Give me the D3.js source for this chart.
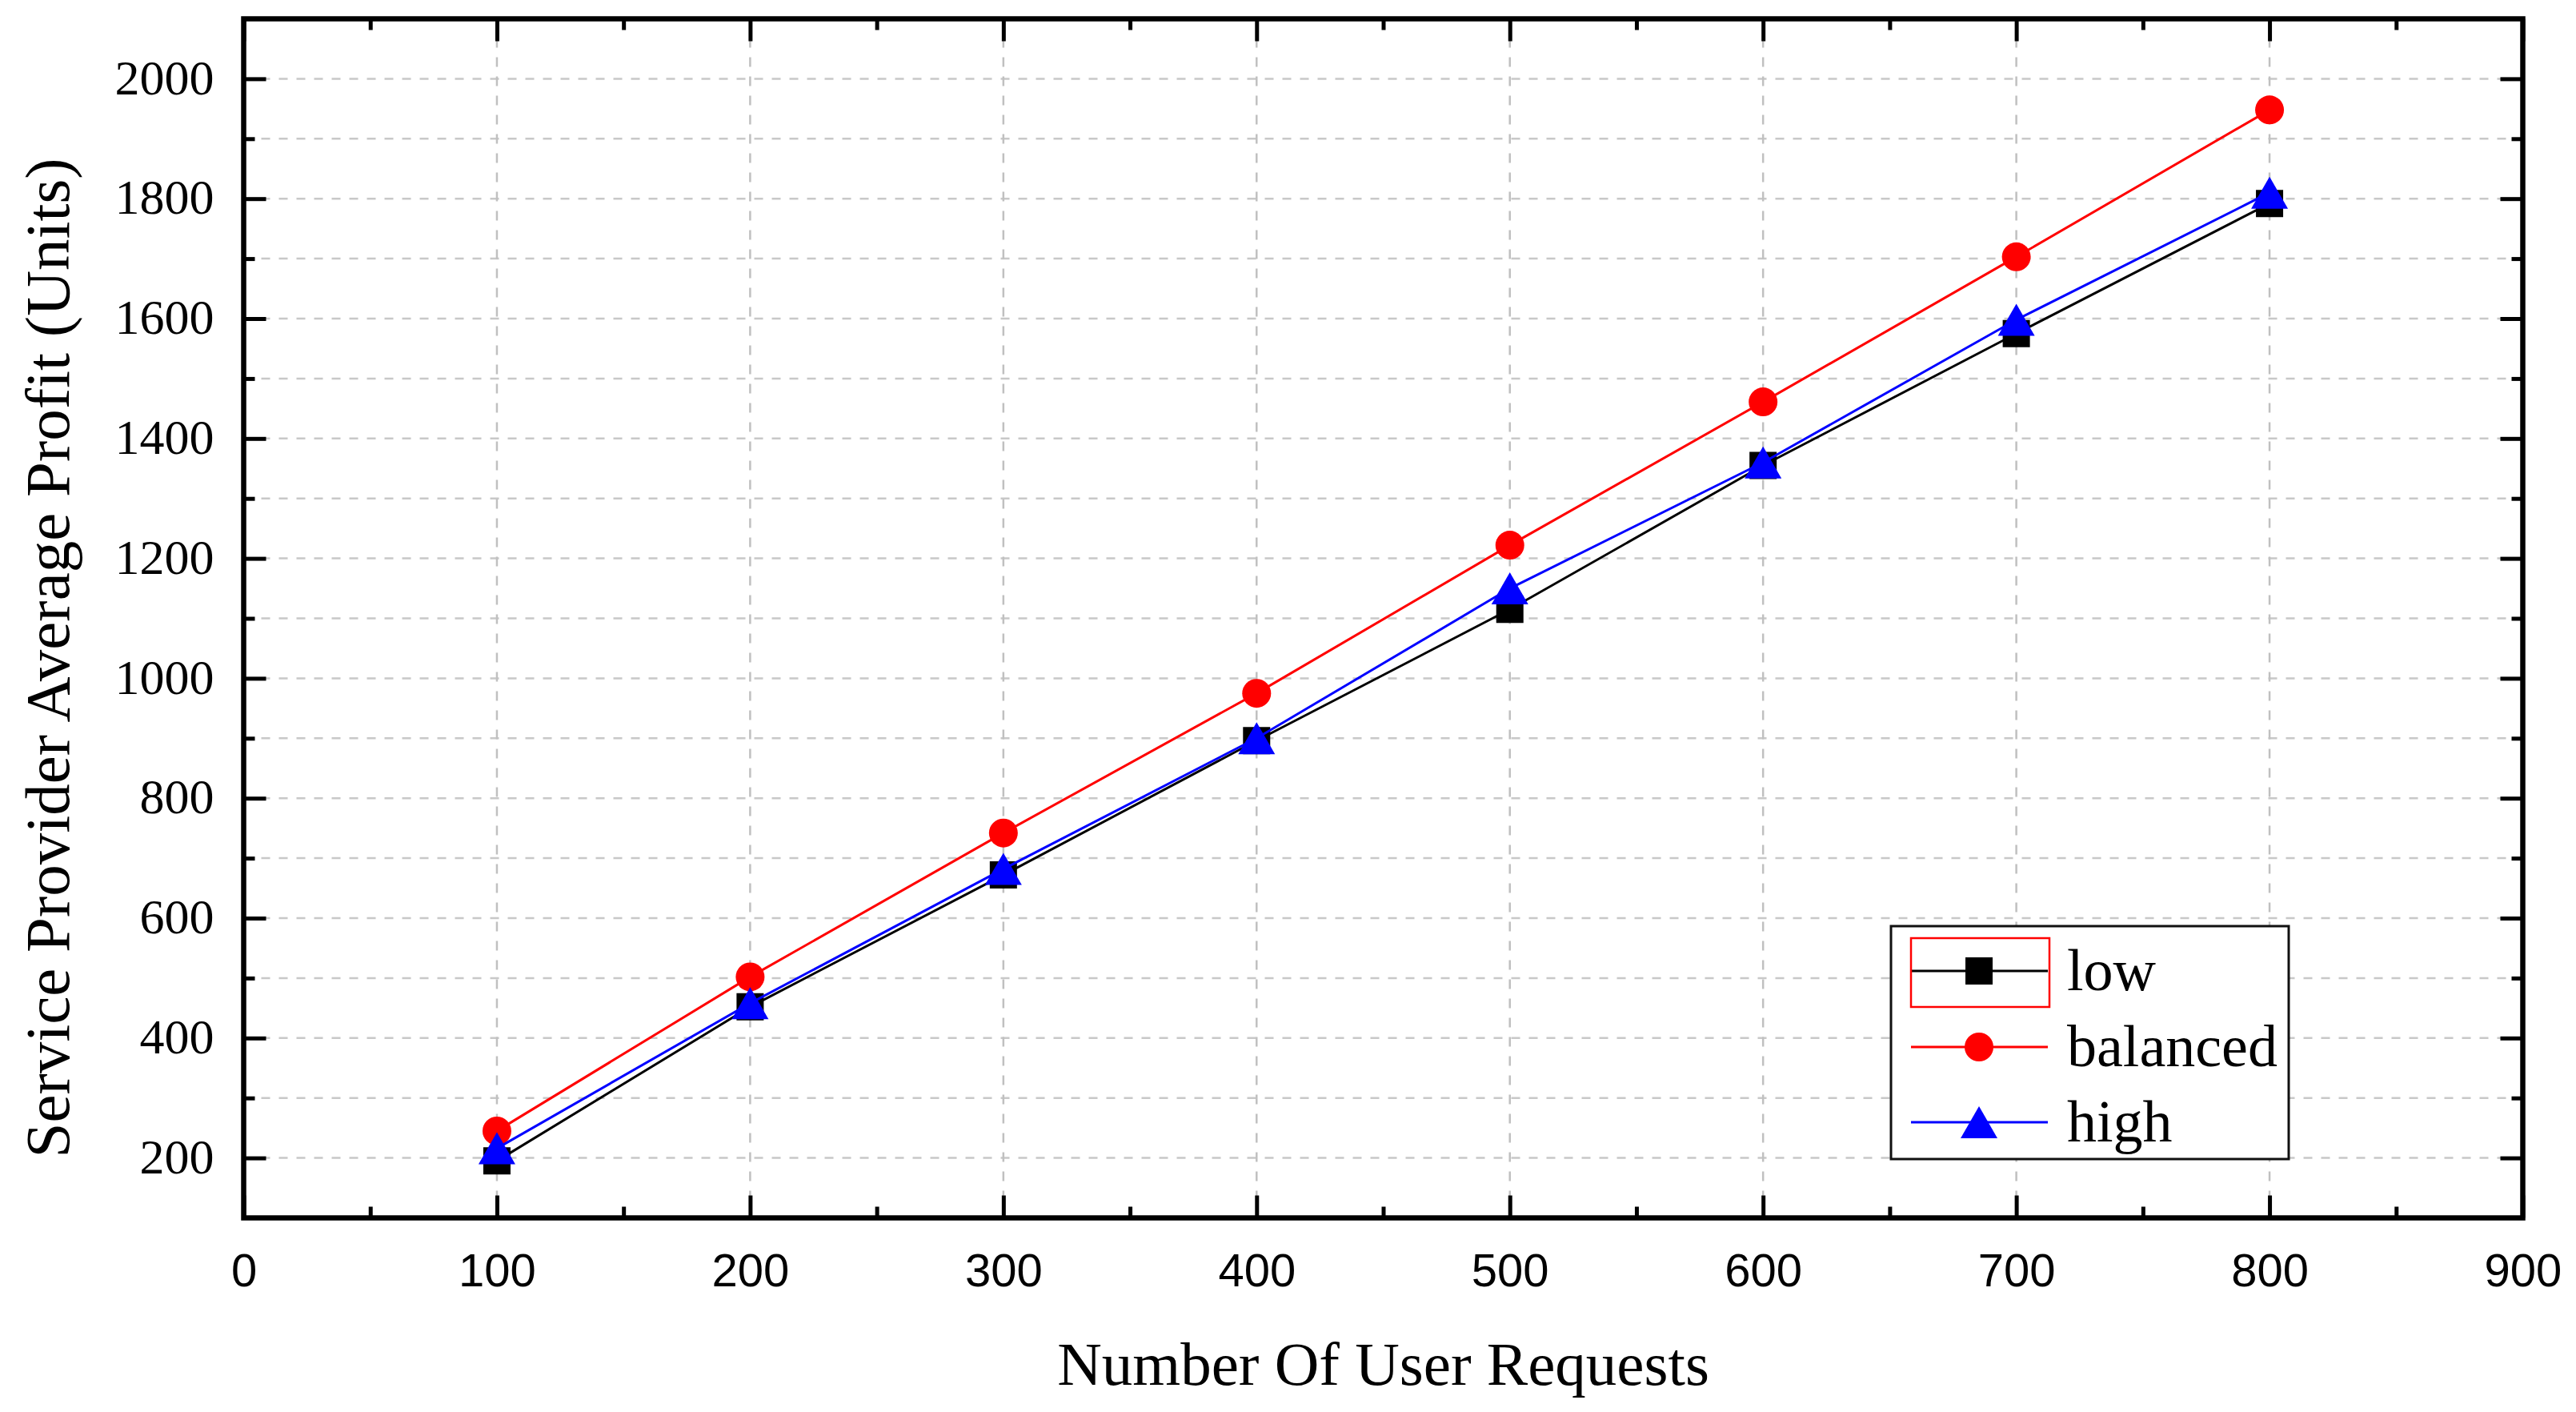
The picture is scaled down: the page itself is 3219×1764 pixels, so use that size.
<!DOCTYPE html>
<html>
<head>
<meta charset="utf-8">
<script src="https://cdn.jsdelivr.net/npm/d3@7"></script>
<style>
  html, body { margin: 0; padding: 0; background: #ffffff; }
  svg { display: block; }
</style>
</head>
<body>
<script>
// ---- data ----
const requests = [100, 200, 300, 400, 500, 600, 700, 800];
const lowProfit = [195, 452, 672, 896, 1115, 1355, 1575, 1792];
const balancedProfit = [245, 502, 742, 975, 1222, 1461, 1703, 1948];
const highProfit = [216, 458, 682, 900, 1150, 1360, 1598, 1810];
const seriesNames = ["low", "balanced", "high"];
const xTickValues = [0, 100, 200, 300, 400, 500, 600, 700, 800, 900];
const xMinorValues = [50, 150, 250, 350, 450, 550, 650, 750, 850];
const yTickValues = [200, 400, 600, 800, 1000, 1200, 1400, 1600, 1800, 2000];
const yMinorValues = [300, 500, 700, 900, 1100, 1300, 1500, 1700, 1900];
const xTitle = "Number Of User Requests";
const yTitle = "Service Provider Average Profit (Units)";

// ---- layout ----
const W = 3219, H = 1764;
const L = 304.5, R = 3152.5, T = 23.5, B = 1521.5;
const serif = "'Liberation Serif', 'Times New Roman', Times, serif";
const sans = "'Liberation Sans', Arial, Helvetica, sans-serif";

const svg = d3.select("body").append("svg").attr("width", W).attr("height", H);
svg.append("rect").attr("width", W).attr("height", H).attr("fill", "#fff");

const x = d3.scaleLinear().domain([0, 900]).range([L, R]);
const y = d3.scaleLinear().domain([100, 2100]).range([B, T]);

// ---- grid ----
const grid = svg.append("g");
grid.selectAll("line.h").data(yTickValues.concat(yMinorValues)).enter().append("line")
  .attr("x1", L).attr("x2", R)
  .attr("y1", d => y(d)).attr("y2", d => y(d))
  .attr("stroke", "#c8c8c8").attr("stroke-width", 2.5).attr("stroke-dasharray", "11,11");
grid.selectAll("line.v").data(xTickValues.filter(d => d > 0 && d < 900)).enter().append("line")
  .attr("x1", d => x(d)).attr("x2", d => x(d))
  .attr("y1", T).attr("y2", B)
  .attr("stroke", "#c0c0c0").attr("stroke-width", 2.5).attr("stroke-dasharray", "12,12");

// ---- axes ----
function styleAxis(g) {
  g.select(".domain").remove();
  g.selectAll(".tick line").attr("stroke", "#000").attr("stroke-width", 5);
}
const majorLen = 28, minorLen = 14;

svg.append("g").attr("transform", `translate(0,${B})`)
  .call(d3.axisBottom(x).tickValues(xTickValues).tickSizeInner(-majorLen).tickSizeOuter(0).tickPadding(44).tickFormat(d3.format("d")))
  .call(styleAxis)
  .call(g => g.selectAll("text").attr("font-family", sans).attr("font-size", 58).attr("fill", "#000"));
svg.append("g").attr("transform", `translate(0,${B})`)
  .call(d3.axisBottom(x).tickValues(xMinorValues).tickSizeInner(-minorLen).tickSizeOuter(0).tickFormat(""))
  .call(styleAxis);
svg.append("g").attr("transform", `translate(0,${T})`)
  .call(d3.axisTop(x).tickValues(xTickValues).tickSizeInner(-majorLen).tickSizeOuter(0).tickFormat(""))
  .call(styleAxis);
svg.append("g").attr("transform", `translate(0,${T})`)
  .call(d3.axisTop(x).tickValues(xMinorValues).tickSizeInner(-minorLen).tickSizeOuter(0).tickFormat(""))
  .call(styleAxis);

svg.append("g").attr("transform", `translate(${L},0)`)
  .call(d3.axisLeft(y).tickValues(yTickValues).tickSizeInner(-majorLen).tickSizeOuter(0).tickPadding(37).tickFormat(d3.format("d")))
  .call(styleAxis)
  .call(g => g.selectAll("text").attr("font-family", serif).attr("font-size", 62).attr("fill", "#000").attr("dy", "0.30em"));
svg.append("g").attr("transform", `translate(${L},0)`)
  .call(d3.axisLeft(y).tickValues(yMinorValues).tickSizeInner(-minorLen).tickSizeOuter(0).tickFormat(""))
  .call(styleAxis);
svg.append("g").attr("transform", `translate(${R},0)`)
  .call(d3.axisRight(y).tickValues(yTickValues).tickSizeInner(-majorLen).tickSizeOuter(0).tickFormat(""))
  .call(styleAxis);
svg.append("g").attr("transform", `translate(${R},0)`)
  .call(d3.axisRight(y).tickValues(yMinorValues).tickSizeInner(-minorLen).tickSizeOuter(0).tickFormat(""))
  .call(styleAxis);

// frame
svg.append("rect").attr("x", L).attr("y", T).attr("width", R - L).attr("height", B - T)
  .attr("fill", "none").attr("stroke", "#000").attr("stroke-width", 6.5);

// ---- series ----
const squarePath = s => `M${-s/2},${-s/2}h${s}v${s}h${-s}Z`;
const circlePath = r => `M${-r},0a${r},${r} 0 1,0 ${2*r},0a${r},${r} 0 1,0 ${-2*r},0Z`;
const trianglePath = (w, h) => `M0,${-h/2}L${w/2},${h/2}L${-w/2},${h/2}Z`;

const series = [
  { name: seriesNames[0], values: lowProfit, color: "#000000", shape: squarePath(34) },
  { name: seriesNames[1], values: balancedProfit, color: "#ff0000", shape: circlePath(18) },
  { name: seriesNames[2], values: highProfit, color: "#0000ff", shape: trianglePath(46, 40) }
];

const line = d3.line().x(d => x(d[0])).y(d => y(d[1]));
series.forEach(s => {
  const pts = requests.map((r, i) => [r, s.values[i]]);
  const g = svg.append("g");
  g.append("path").datum(pts).attr("d", line)
    .attr("fill", "none").attr("stroke", s.color).attr("stroke-width", 3);
  g.selectAll("path.m").data(pts).enter().append("path")
    .attr("transform", d => `translate(${x(d[0])},${y(d[1])})`)
    .attr("d", s.shape).attr("fill", s.color);
});

// ---- legend ----
const lg = svg.append("g");
lg.append("rect").attr("x", 2363).attr("y", 1157).attr("width", 497).attr("height", 291)
  .attr("fill", "#fff").attr("stroke", "#111").attr("stroke-width", 3);
const rowY = [1213, 1308, 1402];
series.forEach((s, i) => {
  lg.append("line").attr("x1", 2388).attr("x2", 2559).attr("y1", rowY[i]).attr("y2", rowY[i])
    .attr("stroke", s.color).attr("stroke-width", 3);
  lg.append("path").attr("transform", `translate(2473,${rowY[i]})`).attr("d", s.shape).attr("fill", s.color);
  lg.append("text").attr("x", 2583).attr("y", rowY[i] + 24)
    .attr("font-family", serif).attr("font-size", 74).attr("fill", "#000").text(s.name);
});
lg.append("rect").attr("x", 2388).attr("y", 1172).attr("width", 173).attr("height", 86)
  .attr("fill", "none").attr("stroke", "#ff0000").attr("stroke-width", 2.5);

// ---- titles ----
svg.append("text").attr("x", (L + R) / 2).attr("y", 1730).attr("text-anchor", "middle")
  .attr("font-family", serif).attr("font-size", 77).attr("fill", "#000").text(xTitle);
svg.append("text").attr("transform", "translate(86,822) rotate(-90)").attr("text-anchor", "middle")
  .attr("font-family", serif).attr("font-size", 79).attr("fill", "#000").text(yTitle);
</script>
</body>
</html>
